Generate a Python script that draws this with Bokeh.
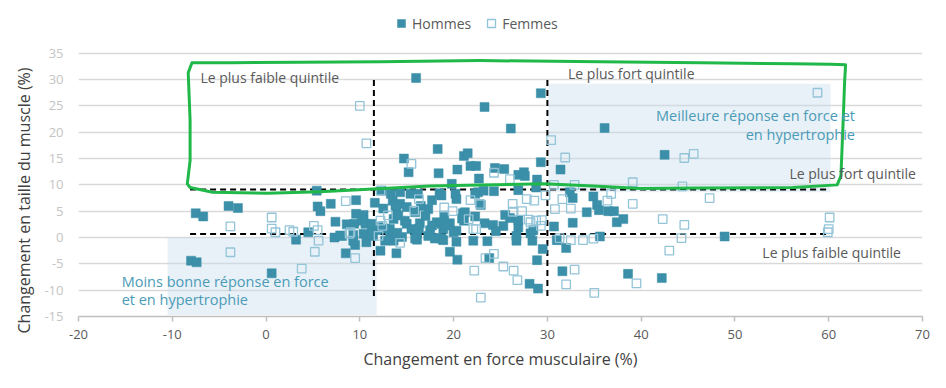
from bokeh.plotting import figure
from bokeh.models import (Range1d, FixedTicker, Legend, LegendItem, Label, BoxAnnotation,
                          ColumnDataSource, Title)
from bokeh.embed import file_html
from bokeh.resources import INLINE

# ---------------- data ----------------
hommes_x = [16.0, 29.3, 23.3, 26.1, 36.1, 18.3, 21.1, 21.5, 14.7, 42.5, 15.2, 18.4, 20.4, 21.8, 22.4,
            22.7, 19.8, 29.3, 24.4, 25.4, 26.9, 27.5, 27.6, 28.9, 31.4, 5.4, 9.6, 11.6, 12.3, 13.3,
            13.5, 14.3, 15.4, 16.2, 17.7, 18.5, 20.2, 20.3, 22.6, 22.9, 24.3, 26.9, 28.8, 32.4, 32.7,
            34.9, 35.3, 35.5, 34.2, 36.5, 37.1, 37.4, 38.1, 32.7, 30.7, 35.6, 31.0, 29.5, 32.0, 28.9,
            23.8, 28.1, 29.0, 31.6, 38.6, 42.2, 48.9, -7.5, -6.7, -4.0, -3.0, -8.0, -7.4, 0.6, 3.2,
            4.5, 5.5, 5.8, 6.9, 7.4, 8.6, 9.4, 7.3, 7.9, 8.5, 9.6, 10.4, 10.2, 10.6, 14.3,
            13.9, 17.3, 17.0, 16.4, 14.8, 13.6, 13.2, 18.2, 18.7, 19.6, 21.0, 21.1, 22.3, 23.3, 8.1,
            9.3, 10.4, 9.5, 9.3, 10.7, 11.4, 12.2, 13.9, 13.2, 16.1, 18.2, 18.9, 20.3, 19.6, 20.4,
            22.1, 23.6, 15.0, 15.5, 17.5, 18.9, 20.3, 13.6, 16.1, 17.3, 25.5, 26.0, 24.2, 25.3, 26.9,
            26.9, 24.5, 26.7, 26.7, 28.4, 28.5, 28.2, 12.5, 12.0, 14.0, 15.0, 16.5, 19.0, 11.8, 23.2,
            13.8, 14.1, 12.7, 11.3, 15.9, 16.3, 17.7, 19.1, 18.7, 15.9, 21.2, 20.9, 20.0, 12.7, 14.5,
            18.0, 11.3, 18.7, 22.3]
hommes_y = [30.3, 27.4, 24.8, 20.7, 20.8, 16.8, 15.5, 16.0, 15.0, 15.7, 12.4, 12.2, 12.9, 13.6, 13.6,
            11.2, 10.2, 14.3, 13.2, 13.0, 11.9, 12.4, 11.7, 11.0, 12.9, 8.9, 7.1, 6.6, 8.9, 8.3,
            7.0, 8.6, 8.3, 8.3, 7.1, 8.4, 8.3, 7.3, 8.6, 6.2, 8.8, 9.0, 9.5, 8.6, 7.5,
            7.8, 6.2, 5.2, 4.8, 5.0, 5.0, 2.9, 3.5, 2.8, 2.1, 0.2, -0.5, -2.2, -2.0, -4.3,
            -3.9, -8.8, -9.7, -6.4, -6.9, -7.7, 0.2, 4.6, 4.0, 6.0, 5.6, -4.4, -4.7, -6.8, -0.4,
            1.0, 5.9, 5.0, 6.4, 3.0, 2.5, 2.6, 0.0, 0.4, -3.0, 4.5, 4.3, 3.2, 2.6, 6.4,
            5.1, 5.4, 4.1, 2.7, 3.2, 3.5, 1.6, 2.9, 2.6, 2.7, 4.6, 3.2, 4.0, 2.7, 0.3,
            0.5, 0.7, -1.4, -0.6, -0.9, 0.3, -2.5, -3.0, 0.7, -0.4, -0.1, -0.5, -0.8, -2.7, -4.2,
            -0.6, -0.7, 2.6, 1.6, 1.4, 1.6, 1.3, -0.6, 0.7, 0.3, 4.3, 3.7, 2.4, 2.2, 1.9,
            3.3, 1.2, 0.3, -0.6, -0.6, 1.4, 0.8, 5.5, 2.0, 0.9, 5.8, 6.0, 4.2, 1.4, 8.9,
            6.1, 4.2, 1.7, 1.0, 4.8, 1.7, 2.3, 2.3, -0.2, -0.2, 4.8, 3.6, 1.0, -0.6, 0.1,
            -0.2, 2.6, 8.0, 8.3]

femmes_x = [10.0, 10.7, 15.5, 58.8, 30.4, 31.9, 44.6, 45.6, 39.1, 44.4, 30.7, 32.9, 24.3, 26.0, 8.5,
            16.3, 21.8, 19.0, 19.9, 15.8, 12.2, 12.4, 21.6, 22.1, 22.4, 9.0, 12.0, 14.3, 9.5, 23.4,
            24.3, 22.2, 22.9, 25.3, 26.4, 26.8, 32.9, 32.0, 35.0, 39.5, 31.6, 36.8, 36.4, 39.1, 32.5,
            30.8, 28.0, 28.8, 29.4, 29.3, 31.3, 32.5, 33.8, 34.9, 47.3, 42.3, 44.6, 44.3, 43.0, 60.1,
            60.0, 59.9, -3.8, -3.8, 0.6, 0.6, 1.0, 2.5, 2.9, 3.8, 5.1, 5.5, 5.6, 5.2, 8.9,
            26.3, 27.3, 26.3, 27.8, 28.6, 29.8, 28.2, 12.2, 22.8, 13.0]
femmes_y = [25.0, 17.9, 14.0, 27.5, 18.5, 15.2, 15.1, 15.9, 10.5, 9.7, 10.0, 10.0, 12.3, 11.1, 6.9,
            7.3, 7.1, 5.7, 5.0, 5.1, 3.2, 2.2, 3.5, 1.6, 1.6, 1.0, 0.3, -1.0, -3.9, -3.9,
            -3.1, -6.3, -11.4, -5.5, -6.3, -8.1, -6.1, -8.9, -10.5, -8.7, 7.3, 8.3, 7.0, 6.4, 5.5,
            5.4, 3.4, 3.2, 3.3, 2.2, -0.1, -0.5, -0.5, -0.2, 7.5, 3.5, 2.4, -0.1, -2.5, 3.8,
            1.6, 1.0, 2.1, -2.8, 3.8, 1.7, 1.0, 1.4, 1.1, -5.9, 2.2, 1.4, -0.6, -2.7, 0.7,
            6.4, 5.0, 4.9, 7.3, 7.0, 8.0, 2.9, 8.9, 6.4, 4.2]

series_names = ["Hommes", "Femmes"]
x_ticks = [-20, -10, 0, 10, 20, 30, 40, 50, 60, 70]
y_ticks = [-15, -10, -5, 0, 5, 10, 15, 20, 25, 30, 35]
force_quintiles = [11.5, 30.0]     # plus faible / plus fort quintile (force)
taille_quintiles = [0.65, 9.1]     # plus faible / plus fort quintile (taille)

FONT = "Open Sans"
TEAL = "#3b8fa9"
LIGHT = "#93c4d7"
TEXT = "#595959"
ANNOT = "#4b9bb8"

# the y range extends above the last tick (35) to leave room for the legend
p = figure(width=940, height=380, x_range=Range1d(-20, 70), y_range=Range1d(-15, 42.93),
           output_backend="svg", toolbar_location=None,
           min_border_left=78, min_border_right=18, min_border_top=11, min_border_bottom=64)
p.outline_line_color = None
p.background_fill_color = "white"
p.border_fill_color = "white"

# shaded zones
p.add_layout(BoxAnnotation(left=-10.5, right=11.8, bottom=-14.7, top=0.1,
                           fill_color="#c5dcec", fill_alpha=0.4, line_color=None, level="underlay"))
p.add_layout(BoxAnnotation(left=30.1, right=60.2, bottom=8.6, top=29.2,
                           fill_color="#c5dcec", fill_alpha=0.4, line_color=None, level="underlay"))

# grid
p.xgrid.visible = False
p.ygrid.ticker = FixedTicker(ticks=y_ticks)
p.ygrid.grid_line_color = "#d9d9d9"
p.ygrid.grid_line_width = 1.5

# axes
p.xaxis.ticker = FixedTicker(ticks=x_ticks)
p.yaxis.ticker = FixedTicker(ticks=y_ticks)
p.xaxis.major_label_overrides = {t: str(t) for t in x_ticks}
p.yaxis.major_label_overrides = {t: str(t) for t in y_ticks}
p.xaxis.axis_label = "Changement en force musculaire (%)"
p.xaxis.axis_label_text_font = FONT
p.xaxis.axis_label_text_font_style = "normal"
p.xaxis.axis_label_text_font_size = "16px"
p.xaxis.axis_label_text_color = "#404040"
for ax in (p.xaxis[0], p.yaxis[0]):
    ax.major_label_text_font = FONT
    ax.major_label_text_font_size = "13px"
    ax.minor_tick_line_color = None
p.xaxis.major_label_text_color = TEXT
p.xaxis.axis_line_color = "#bfbfbf"
p.xaxis.axis_line_width = 1.5
p.xaxis.major_tick_line_color = "#bfbfbf"
p.xaxis.major_tick_line_width = 1.5
p.xaxis.major_tick_out = 5
p.xaxis.major_tick_in = 0
p.xaxis.major_label_standoff = 8
p.xaxis.axis_label_standoff = 6
p.yaxis.major_label_text_color = "#c4c4c4"
p.yaxis.axis_line_color = None
p.yaxis.major_tick_line_color = None
p.yaxis.major_tick_out = 0
p.yaxis.major_tick_in = 0
p.yaxis.minor_tick_out = 0
p.yaxis.major_label_standoff = 15

# y axis title, placed as a side title so it can sit lower than the frame centre
p.add_layout(Title(text="Changement en taille du muscle (%)", align="left", vertical_align="bottom",
                   offset=-17, standoff=14, text_font=FONT, text_font_size="16px",
                   text_font_style="normal", text_color="#404040"), "left")

# quintile dashed lines
p.segment(x0=[force_quintiles[0], force_quintiles[1]], y0=[-11.1, -11.1],
          x1=[force_quintiles[0], force_quintiles[1]], y1=[30.1, 30.0],
          line_color="black", line_width=2, line_dash="6 4")
p.segment(x0=[-8.1, -8.1], y0=taille_quintiles, x1=[60.0, 60.0], y1=taille_quintiles,
          line_color="black", line_width=2, line_dash="6 4")

# points
src_h = ColumnDataSource(dict(x=hommes_x, y=hommes_y))
src_f = ColumnDataSource(dict(x=femmes_x, y=femmes_y))
r_h = p.scatter("x", "y", source=src_h, marker="square", size=9,
                fill_color=TEAL, line_color=TEAL, line_width=0.5)
r_f = p.scatter("x", "y", source=src_f, marker="square", size=8.5,
                fill_color=None, line_color=LIGHT, line_width=1.3)

# annotation texts
def label(x, y, t, align="left", color=TEXT, size="14px", style="normal"):
    p.add_layout(Label(x=x, y=y, text=t, text_align=align, text_baseline="middle",
                       text_font=FONT, text_font_size=size, text_color=color,
                       text_font_style=style))

label(-7.0, 30.4, "Le plus faible quintile")
label(32.2, 31.1, "Le plus fort quintile")
label(69.3, 12.1, "Le plus fort quintile", align="right")
label(67.7, -2.9, "Le plus faible quintile", align="right")
label(62.8, 23.1, "Meilleure réponse en force et", align="right", color=ANNOT, size="14.5px")
label(62.8, 19.6, "en hypertrophie", align="right", color=ANNOT, size="14.5px")
label(-15.4, -8.4, "Moins bonne réponse en force", color=ANNOT, size="14.5px")
label(-15.4, -11.8, "et en hypertrophie", color=ANNOT, size="14.5px")

# green hand-drawn highlight
gx = [-7.9, -8.3, -8.1, -8.1, -8.4, -8.1, -5.7, 0.1, 5.8, 11.4, 17.5, 22.8, 29.6, 34.9, 39.9,
      46.3, 56.2, 60.9, 61.3, 61.5, 61.7, 61.8, 60.2, 56.2, 46.3, 35.6, 22.8, 12.2, 3.6, -3.8, -7.9]
gy = [33.2, 31.3, 22.2, 14.6, 10.2, 9.5, 8.6, 8.4, 8.7, 9.2, 9.8, 10.0, 10.2, 9.8, 9.3,
      9.4, 9.5, 10.0, 11.7, 20.3, 29.8, 32.8, 32.9, 33.0, 33.2, 33.4, 33.6, 33.4, 33.3, 33.2, 33.2]
p.line(gx, gy, line_color="#21b84a", line_width=3, line_join="round", line_cap="round")

# legend (inside the frame, above the last gridline)
legend = Legend(items=[LegendItem(label=series_names[0], renderers=[r_h]),
                       LegendItem(label=series_names[1], renderers=[r_f])],
                orientation="horizontal", location=(313, 283),
                label_text_font=FONT, label_text_font_size="14px", label_text_color=TEXT,
                border_line_color=None, background_fill_alpha=0,
                padding=0, margin=0, spacing=10, label_standoff=1,
                glyph_width=20, glyph_height=20)
p.add_layout(legend, "center")

open("out.html", "w").write(file_html(p, INLINE))
